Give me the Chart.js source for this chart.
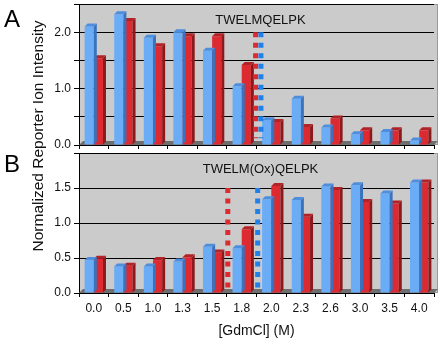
<!DOCTYPE html>
<html>
<head>
<meta charset="utf-8">
<script src="https://cdn.jsdelivr.net/npm/chart.js@4"></script>
<style>
  body { margin: 0; background: #fff; }
  #wrap { position: relative; width: 442px; height: 340px; font-family: "Liberation Sans", Arial, sans-serif; }
  #cA { position: absolute; left: 0; top: 0; }
  #cB { position: absolute; left: 0; top: 150px; }
  .panel { position: absolute; left: 4px; font-size: 24px; color: #000; }
  #ytitle { position: absolute; left: 38px; top: 136px; transform: translate(-50%, -50%) rotate(-90deg);
            white-space: nowrap; font-size: 15.5px; color: #111; }
</style>
</head>
<body>
<div id="wrap">
  <canvas id="cA" width="442" height="150"></canvas>
  <canvas id="cB" width="442" height="190"></canvas>
  <div class="panel" style="top:5px">A</div>
  <div class="panel" style="top:150px">B</div>
  <div id="ytitle">Normalized Reporter Ion Intensity</div>
</div>
<script>
// GdmCl concentrations (M)
const concentrations = ['0.0', '0.5', '1.0', '1.3', '1.5', '1.8', '2.0', '2.3', '2.6', '3.0', '3.5', '4.0'];

// A: TWELMQELPK
const peptideA = 'TWELMQELPK';
const blueA = [2.10, 2.32, 1.90, 2.00, 1.67, 1.04, 0.44, 0.82, 0.31, 0.19, 0.23, 0.08];
const redA = [1.54, 2.20, 1.75, 1.93, 1.93, 1.42, 0.41, 0.32, 0.47, 0.26, 0.26, 0.26];
const midA = [5.47, 5.65];           // red, blue midpoint (category index)
const midRangeA = [0.12, 2.0];

// B: TWELM(Ox)QELPK
const peptideB = 'TWELM(Ox)QELPK';
const blueB = [0.47, 0.38, 0.38, 0.45, 0.66, 0.64, 1.34, 1.33, 1.52, 1.54, 1.42, 1.58];
const redB = [0.49, 0.39, 0.47, 0.51, 0.58, 0.91, 1.53, 1.09, 1.47, 1.30, 1.28, 1.58];
const midB = [4.53, 5.54];
const midRangeB = [0.08, 1.5];

const BLUE = '#6aacf6', BLUE_SIDE = '#3a72bd', BLUE_TOP = '#4e8ede';
const RED = '#dc2a30', RED_SIDE = '#8c1a1c', RED_TOP = '#b22226';

// gray back wall + dark floor
const wallPlugin = {
    id: 'wall',
    beforeDatasetsDraw(chart) {
        const { ctx, chartArea: a } = chart;
        ctx.save();
        ctx.fillStyle = '#6e6e6e';
        ctx.beginPath();
        ctx.moveTo(a.left, a.bottom);
        ctx.lineTo(a.right, a.bottom);
        ctx.lineTo(a.right + 4, a.bottom - 4);
        ctx.lineTo(a.left + 4, a.bottom - 4);
        ctx.closePath();
        ctx.fill();
        ctx.restore();
    },
    beforeDraw(chart) {
        const { ctx, chartArea: a } = chart;
        ctx.save();
        ctx.fillStyle = '#cbcbcb';
        ctx.fillRect(a.left, a.top, a.right - a.left + 4, a.bottom - a.top);
        ctx.strokeStyle = '#9a9a9a';
        ctx.strokeRect(a.left + 0.5, a.top + 0.5, a.right - a.left + 3, a.bottom - a.top - 1);
        ctx.restore();
    }
};

// side and top faces of each bar
const bar3dPlugin = {
    id: 'bar3d',
    afterDatasetDraw(chart, args) {
        const ctx = chart.ctx;
        const ds = chart.data.datasets[args.index];
        const d = 3, dy = 3;
        ctx.save();
        args.meta.data.forEach(bar => {
            const l = bar.x - bar.width / 2, r = bar.x + bar.width / 2;
            const t = bar.y, b = bar.base;
            ctx.fillStyle = ds.sideColor;
            ctx.beginPath();
            ctx.moveTo(r, t); ctx.lineTo(r + d, t - dy); ctx.lineTo(r + d, b - dy); ctx.lineTo(r, b);
            ctx.closePath(); ctx.fill();
            ctx.fillStyle = ds.topColor;
            ctx.beginPath();
            ctx.moveTo(l, t); ctx.lineTo(l + d, t - dy); ctx.lineTo(r + d, t - dy); ctx.lineTo(r, t);
            ctx.closePath(); ctx.fill();
        });
        ctx.restore();
    }
};

// dotted transition midpoints and peptide label
const markPlugin = {
    id: 'marks',
    afterDatasetsDraw(chart, args, opts) {
        const { ctx, chartArea: a, scales } = chart;
        ctx.save();
        [RED, '#1f80ea'].forEach((col, i) => {
            const x = scales.x.getPixelForValue(opts.mid[i]);
            ctx.strokeStyle = col;
            ctx.lineWidth = 5;
            ctx.setLineDash([5, 5.5]);
            ctx.beginPath();
            ctx.moveTo(x, scales.y.getPixelForValue(opts.range[1]));
            ctx.lineTo(x, scales.y.getPixelForValue(opts.range[0]));
            ctx.stroke();
        });
        ctx.setLineDash([]);
        ctx.fillStyle = '#111';
        ctx.font = '13px "Liberation Sans", Arial, sans-serif';
        ctx.textAlign = 'center';
        ctx.textBaseline = 'middle';
        ctx.fillText(opts.label, (a.left + a.right) / 2 + 4, a.top + opts.labelDy);
        ctx.restore();
    }
};

function makeChart(id, blue, red, cfg) {
    return new Chart(document.getElementById(id), {
        type: 'bar',
        data: {
            labels: concentrations,
            datasets: [
                { data: blue, backgroundColor: BLUE, sideColor: BLUE_SIDE, topColor: BLUE_TOP,
                  categoryPercentage: 0.62, barPercentage: 1 },
                { data: red, backgroundColor: RED, sideColor: RED_SIDE, topColor: RED_TOP,
                  categoryPercentage: 0.62, barPercentage: 1 }
            ]
        },
        options: {
            responsive: false,
            animation: false,
            layout: { padding: { left: 0, right: 8, top: cfg.top, bottom: 0 } },
            plugins: {
                legend: { display: false },
                tooltip: { enabled: false },
                marks: { mid: cfg.mid, range: cfg.range, label: cfg.label, labelDy: cfg.labelDy }
            },
            scales: {
                x: {
                    grid: { display: true, drawOnChartArea: false, color: '#000', tickLength: 4 },
                    border: { color: '#000' },
                    ticks: {
                        display: cfg.xLabels,
                        color: '#111',
                        font: { family: '"Liberation Sans", Arial, sans-serif', size: 12 },
                        maxRotation: 0,
                        padding: 4
                    },
                    title: {
                        display: cfg.xLabels,
                        text: '[GdmCl] (M)',
                        color: '#111',
                        font: { family: '"Liberation Sans", Arial, sans-serif', size: 14 },
                        padding: { top: 0, bottom: 0 }
                    },
                    afterFit(scale) { scale.height = cfg.xHeight; }
                },
                y: {
                    min: 0,
                    max: cfg.max,
                    grid: { color: '#000', tickLength: 5 },
                    border: { color: '#000' },
                    ticks: {
                        stepSize: 0.5,
                        padding: 3,
                        color: '#111',
                        font: { family: '"Liberation Sans", Arial, sans-serif', size: 12 },
                        callback: cfg.tickFmt
                    },
                    afterFit(scale) {
                        scale.width = 79;
                        scale.paddingTop = 0;
                        scale.paddingBottom = 0;
                    }
                }
            }
        },
        plugins: [wallPlugin, bar3dPlugin, markPlugin]
    });
}

makeChart('cA', blueA, redA, {
    top: 4, max: 2.5, xLabels: false, xHeight: 5,
    mid: midA, range: midRangeA, label: peptideA, labelDy: 16,
    tickFmt: v => (Math.abs(v - Math.round(v)) < 1e-9 && v < 2.5) ? v.toFixed(1) : ''
});

makeChart('cB', blueB, redB, {
    top: 3, max: 2.0, xLabels: true, xHeight: 47,
    mid: midB, range: midRangeB, label: peptideB, labelDy: 16,
    tickFmt: v => v < 2 ? v.toFixed(1) : ''
});
</script>
</body>
</html>
